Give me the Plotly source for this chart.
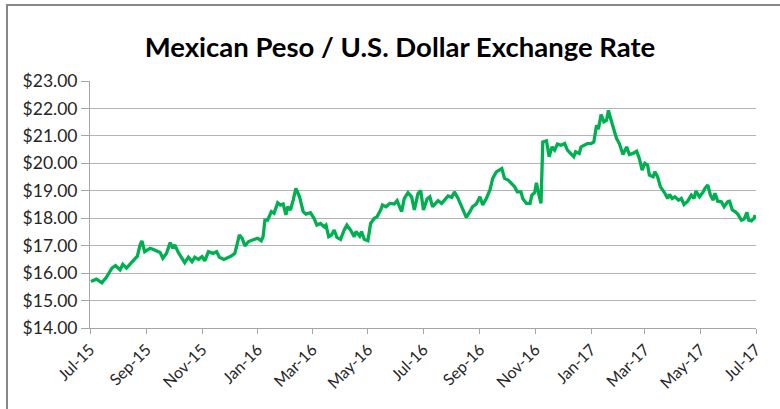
import plotly.graph_objects as go

dates = [
    "2015-07-02", "2015-07-08", "2015-07-14", "2015-07-19", "2015-07-25", "2015-07-29",
    "2015-08-03", "2015-08-06", "2015-08-10", "2015-08-15", "2015-08-19", "2015-08-22",
    "2015-08-25", "2015-08-27", "2015-08-30", "2015-09-05", "2015-09-08", "2015-09-12",
    "2015-09-16", "2015-09-19", "2015-09-23", "2015-09-27", "2015-09-30", "2015-10-02",
    "2015-10-06", "2015-10-10", "2015-10-13", "2015-10-17", "2015-10-21", "2015-10-24",
    "2015-10-28", "2015-11-01", "2015-11-04", "2015-11-08", "2015-11-13", "2015-11-17",
    "2015-11-20", "2015-11-25", "2015-11-29", "2015-12-03", "2015-12-07", "2015-12-10",
    "2015-12-12", "2015-12-15", "2015-12-18", "2015-12-22", "2015-12-27", "2016-01-01",
    "2016-01-05", "2016-01-07", "2016-01-09", "2016-01-12", "2016-01-16", "2016-01-19",
    "2016-01-23", "2016-01-26", "2016-01-29", "2016-02-01", "2016-02-03", "2016-02-06",
    "2016-02-09", "2016-02-12", "2016-02-16", "2016-02-20", "2016-02-23", "2016-02-28",
    "2016-03-03", "2016-03-06", "2016-03-10", "2016-03-14", "2016-03-16", "2016-03-19",
    "2016-03-22", "2016-03-25", "2016-03-28", "2016-04-01", "2016-04-05", "2016-04-08",
    "2016-04-12", "2016-04-16", "2016-04-18", "2016-04-22", "2016-04-24", "2016-04-27",
    "2016-05-01", "2016-05-04", "2016-05-08", "2016-05-11", "2016-05-15", "2016-05-17",
    "2016-05-21", "2016-05-25", "2016-05-30", "2016-06-02", "2016-06-07", "2016-06-10",
    "2016-06-14", "2016-06-18", "2016-06-21", "2016-06-25", "2016-06-28", "2016-07-01",
    "2016-07-05", "2016-07-08", "2016-07-11", "2016-07-17", "2016-07-21", "2016-07-24",
    "2016-07-28", "2016-08-01", "2016-08-04", "2016-08-08", "2016-08-12", "2016-08-14",
    "2016-08-17", "2016-08-21", "2016-08-24", "2016-08-28", "2016-09-01", "2016-09-04",
    "2016-09-08", "2016-09-12", "2016-09-15", "2016-09-19", "2016-09-23", "2016-09-25",
    "2016-09-28", "2016-10-02", "2016-10-05", "2016-10-09", "2016-10-12", "2016-10-16",
    "2016-10-18", "2016-10-22", "2016-10-26", "2016-10-28", "2016-10-31", "2016-11-02",
    "2016-11-04", "2016-11-07", "2016-11-09", "2016-11-13", "2016-11-16", "2016-11-19",
    "2016-11-22", "2016-11-25", "2016-11-29", "2016-12-03", "2016-12-06", "2016-12-10",
    "2016-12-13", "2016-12-15", "2016-12-19", "2016-12-21", "2016-12-25", "2016-12-28",
    "2017-01-01", "2017-01-04", "2017-01-07", "2017-01-09", "2017-01-12", "2017-01-15",
    "2017-01-18", "2017-01-20", "2017-01-23", "2017-01-26", "2017-01-29", "2017-02-01",
    "2017-02-05", "2017-02-09", "2017-02-12", "2017-02-16", "2017-02-20", "2017-02-23",
    "2017-02-26", "2017-03-01", "2017-03-04", "2017-03-06", "2017-03-10", "2017-03-12",
    "2017-03-15", "2017-03-18", "2017-03-21", "2017-03-23", "2017-03-26", "2017-03-28",
    "2017-03-31", "2017-04-03", "2017-04-07", "2017-04-10", "2017-04-13", "2017-04-17",
    "2017-04-21", "2017-04-24", "2017-04-26", "2017-04-30", "2017-05-04", "2017-05-06",
    "2017-05-09", "2017-05-12", "2017-05-15", "2017-05-17", "2017-05-20", "2017-05-24",
    "2017-05-27", "2017-05-31", "2017-06-02", "2017-06-05", "2017-06-08", "2017-06-11",
    "2017-06-15", "2017-06-18", "2017-06-21", "2017-06-23", "2017-06-26", "2017-06-29",
    "2017-06-30",
]

rates = [
    15.69, 15.78, 15.65, 15.85, 16.18, 16.27,
    16.12, 16.32, 16.18, 16.36, 16.48, 16.62,
    17.03, 17.17, 16.78, 16.90, 16.87, 16.81,
    16.75, 16.54, 16.72, 17.11, 16.90, 17.03,
    16.75, 16.54, 16.38, 16.58, 16.42, 16.58,
    16.50, 16.60, 16.45, 16.78, 16.72, 16.78,
    16.58, 16.50, 16.56, 16.62, 16.72, 17.09,
    17.39, 17.27, 16.99, 17.15, 17.21, 17.27,
    17.18, 17.33, 17.93, 17.93, 18.24, 18.18,
    18.56, 18.48, 18.52, 18.12, 18.42, 18.30,
    18.66, 19.09, 18.78, 18.24, 18.15, 18.20,
    17.99, 17.75, 17.81, 17.69, 17.75, 17.33,
    17.39, 17.57, 17.30, 17.23, 17.57, 17.75,
    17.57, 17.33, 17.51, 17.35, 17.51, 17.23,
    17.18, 17.81, 18.00, 18.05, 18.30, 18.48,
    18.42, 18.54, 18.52, 18.64, 18.24, 18.72,
    18.93, 18.78, 18.30, 18.90, 19.00, 18.30,
    18.70, 18.78, 18.42, 18.64, 18.54, 18.66,
    18.81, 18.76, 18.96, 18.72, 18.42, 18.24,
    18.03, 18.24, 18.42, 18.52, 18.78, 18.48,
    18.72, 19.03, 19.45, 19.69, 19.75, 19.81,
    19.45, 19.39, 19.29, 19.15, 18.96, 18.96,
    18.72, 18.54, 18.54, 18.84, 18.93, 19.29,
    18.96, 18.54, 20.78, 20.82, 20.24, 20.60,
    20.48, 20.70, 20.66, 20.72, 20.48, 20.36,
    20.24, 20.42, 20.36, 20.60, 20.66, 20.72,
    20.72, 20.78, 21.39, 21.24, 21.78, 21.51,
    21.57, 21.93, 21.57, 21.27, 20.90, 20.72,
    20.32, 20.60, 20.32, 20.36, 20.44, 20.18,
    19.75, 20.00, 19.93, 19.57, 19.51, 19.69,
    19.51, 19.15, 19.03, 18.91, 18.72, 18.87,
    18.72, 18.78, 18.66, 18.72, 18.50, 18.62,
    18.84, 18.72, 18.99, 18.78, 18.96, 19.09,
    19.21, 18.84, 18.66, 18.91, 18.62, 18.60,
    18.42, 18.60, 18.62, 18.30, 18.24, 18.15,
    17.93, 17.97, 18.21, 17.93, 17.90, 18.00,
    18.12,
]

title_text = "Mexican Peso / U.S. Dollar Exchange Rate"
x_start, x_end = "2015-07-01", "2017-07-01"
y_min, y_max = 14, 23

W, H = 780, 409
ml, mr, mt, mb = 90, 24, 81, 81
pw, ph = W - ml - mr, H - mt - mb

fig = go.Figure()
fig.add_trace(go.Scatter(
    x=dates, y=rates, mode="lines",
    line=dict(color="#00B050", width=3.3),
    showlegend=False,
))

font_family = "Lato, 'Open Sans', sans-serif"

fig.update_layout(
    width=W, height=H,
    margin=dict(l=ml, r=mr, t=mt, b=mb),
    paper_bgcolor="white", plot_bgcolor="white",
    title=dict(
        text="<b>" + title_text + "</b>",
        x=400 / W, xanchor="center",
        y=1 - 47 / H, yanchor="middle",
        font=dict(family=font_family, size=27.5, color="#000000"),
    ),
    xaxis=dict(
        type="date",
        range=[x_start, x_end],
        tick0=x_start, dtick="M2",
        tickformat="%b-%y",
        tickangle=-45,
        ticks="outside", ticklen=5, tickcolor="#A6A6A6", tickwidth=1,
        showline=True, linecolor="#A6A6A6", linewidth=1,
        showgrid=False, zeroline=False,
        tickfont=dict(family=font_family, size=16, color="#262626"),
    ),
    yaxis=dict(
        range=[y_min, y_max],
        dtick=1, tick0=0,
        tickprefix="$", tickformat=".2f",
        ticks="outside", ticklen=8, tickcolor="#A6A6A6", tickwidth=1,
        showline=True, linecolor="#A6A6A6", linewidth=1,
        showgrid=True, gridcolor="#B4B4B4", gridwidth=1,
        zeroline=False,
        tickfont=dict(family=font_family, size=17.5, color="#262626"),
    ),
    shapes=[dict(
        type="rect", xref="paper", yref="paper",
        x0=(7 - ml) / pw, x1=(W + 20 - ml) / pw,
        y0=-(H + 20 - mt - ph) / ph, y1=(mt + ph - 5) / ph,
        line=dict(color="#878787", width=2),
        fillcolor="rgba(0,0,0,0)", layer="below",
    )],
)

fig.write_html("out.html")
